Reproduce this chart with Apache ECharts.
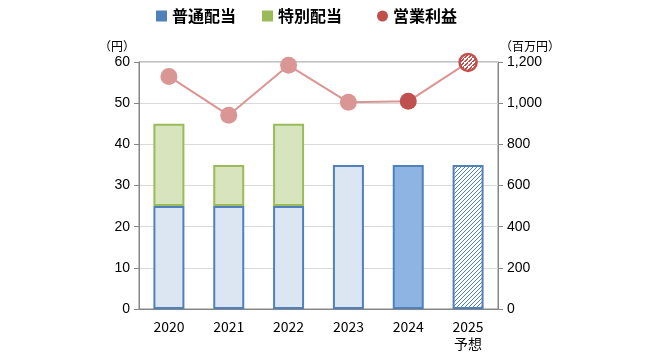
<!DOCTYPE html>
<html><head><meta charset="utf-8">
<script src="https://cdn.jsdelivr.net/npm/echarts@6/dist/echarts.min.js"></script>
<style>html,body{margin:0;padding:0;background:#fff}#c{width:655px;height:357px}</style>
</head><body><div id="c"></div>
<script>
const categories = ['2020', '2021', '2022', '2023', '2024', '2025\n予想'];
const ordinaryDividend = [25, 25, 25, 35, 35, 35];
const specialDividend = [20, 10, 20, null, null, null];
const operatingProfit = [1130, 941, 1184, 1004, 1009, 1198];
const leftTicks = [0, 60, 10];
const rightTicks = [0, 1200, 200];

const MARK = 17;

function hatch(fg, bg, size, w) {
  const c = document.createElement('canvas');
  c.width = c.height = size;
  const x = c.getContext('2d');
  x.fillStyle = bg; x.fillRect(0, 0, size, size);
  x.fillStyle = fg;
  for (let i = 0; i < size; i++) {
    for (let k = 0; k < w; k++) {
      x.fillRect((i + k) % size, size - 1 - i, 1, 1);
    }
  }
  return c;
}
function bigHatch(fg, bg, size) {
  const c = document.createElement('canvas');
  c.width = c.height = size;
  const x = c.getContext('2d');
  x.fillStyle = bg; x.fillRect(0, 0, size, size);
  x.strokeStyle = fg; x.lineWidth = size / Math.SQRT2 / 2;
  for (const o of [-size, 0, size]) {
    x.beginPath(); x.moveTo(o, size); x.lineTo(o + size, 0); x.stroke();
  }
  return c;
}
const blueHatch = { image: hatch('#4F81BD', '#ffffff', 4, 1), repeat: 'repeat' };
const redTile = 32;
const redScale = 4 / redTile / (MARK / 2);
const redHatch = { image: bigHatch('#C0504D', '#ffffff', redTile), repeat: 'repeat', scaleX: redScale, scaleY: redScale };

const FONT = "'Noto Sans CJK JP', 'Noto Sans', sans-serif";
const chart = echarts.init(document.getElementById('c'), null, { renderer: 'canvas' });

const baseStyles = [
  { color: '#DCE6F2', borderColor: '#4F81BD' },
  { color: '#DCE6F2', borderColor: '#4F81BD' },
  { color: '#DCE6F2', borderColor: '#4F81BD' },
  { color: '#DCE6F2', borderColor: '#4F81BD' },
  { color: '#8EB4E3', borderColor: '#4F81BD' },
  { color: blueHatch, borderColor: '#4F81BD' }
];
const lineStyles = [
  { color: '#DA9694' }, { color: '#DA9694' }, { color: '#DA9694' }, { color: '#DA9694' },
  { color: '#C0504D' },
  { color: redHatch, borderColor: '#C0504D', borderWidth: 2.5 }
];

const legendText = { fontSize: 16, fontWeight: 'bold', color: '#000', fontFamily: FONT };

chart.setOption({
  animation: false,
  textStyle: { fontFamily: FONT },
  legend: [
    {
      left: 151, top: 3, itemWidth: 11, itemHeight: 11, itemGap: 26, selectedMode: false,
      textStyle: legendText,
      data: [
        { name: '普通配当', icon: 'rect', itemStyle: { color: '#4F81BD', borderWidth: 0 } },
        { name: '特別配当', icon: 'rect', itemStyle: { color: '#9BBB59', borderWidth: 0 } }
      ]
    },
    {
      left: 372, top: 3, itemWidth: 11, itemHeight: 11, selectedMode: false,
      textStyle: legendText,
      data: [
        { name: '営業利益', icon: 'circle', itemStyle: { color: '#C0504D', borderWidth: 0 } }
      ]
    }
  ],
  grid: { left: 139, right: 157, top: 62, bottom: 48, show: true, borderColor: '#868686', borderWidth: 1 },
  xAxis: {
    type: 'category', data: categories,
    axisLine: { lineStyle: { color: '#868686', width: 1 } },
    axisTick: { show: false },
    axisLabel: { color: '#000', fontSize: 14, margin: 9, lineHeight: 17, fontFamily: FONT }
  },
  yAxis: [
    {
      type: 'value', min: leftTicks[0], max: leftTicks[1], interval: leftTicks[2],
      name: '（円）', nameGap: 10, nameTextStyle: { color: '#000', fontSize: 12, align: 'right', padding: [0, 4, 0, 0] },
      axisLine: { show: true, lineStyle: { color: '#868686' } },
      axisTick: { show: true, length: 5, lineStyle: { color: '#868686' } },
      axisLabel: { color: '#000', fontSize: 14, margin: 9, fontFamily: 'Liberation Sans, sans-serif' },
      splitLine: { lineStyle: { color: '#D9D9D9' } }
    },
    {
      type: 'value', min: rightTicks[0], max: rightTicks[1], interval: rightTicks[2],
      name: '（百万円）', nameGap: 10, nameTextStyle: { color: '#000', fontSize: 12, align: 'left', padding: [0, 0, 0, 2] },
      axisLine: { show: true, lineStyle: { color: '#868686' } },
      axisTick: { show: true, length: 5, lineStyle: { color: '#868686' } },
      axisLabel: { color: '#000', fontSize: 14, margin: 9, fontFamily: 'Liberation Sans, sans-serif',
        formatter: v => v.toLocaleString('en-US') },
      splitLine: { show: false }
    }
  ],
  series: [
    {
      name: '普通配当', type: 'bar', stack: 'd', barWidth: 31,
      data: ordinaryDividend.map((v, i) => ({ value: v, itemStyle: Object.assign({ borderWidth: 2 }, baseStyles[i]) })),
      itemStyle: { color: '#DCE6F2', borderColor: '#4F81BD', borderWidth: 2 }
    },
    {
      name: '特別配当', type: 'bar', stack: 'd', barWidth: 31, z: 3,
      data: specialDividend,
      itemStyle: { color: '#D7E4BD', borderColor: '#9BBB59', borderWidth: 2 }
    },
    {
      name: '営業利益', type: 'line', yAxisIndex: 1, symbol: 'circle', symbolSize: MARK, z: 4,
      lineStyle: { color: '#DA9694', width: 2 },
      itemStyle: { color: '#DA9694' },
      data: operatingProfit.map((v, i) => ({ value: v, itemStyle: lineStyles[i] }))
    }
  ]
});
</script></body></html>
